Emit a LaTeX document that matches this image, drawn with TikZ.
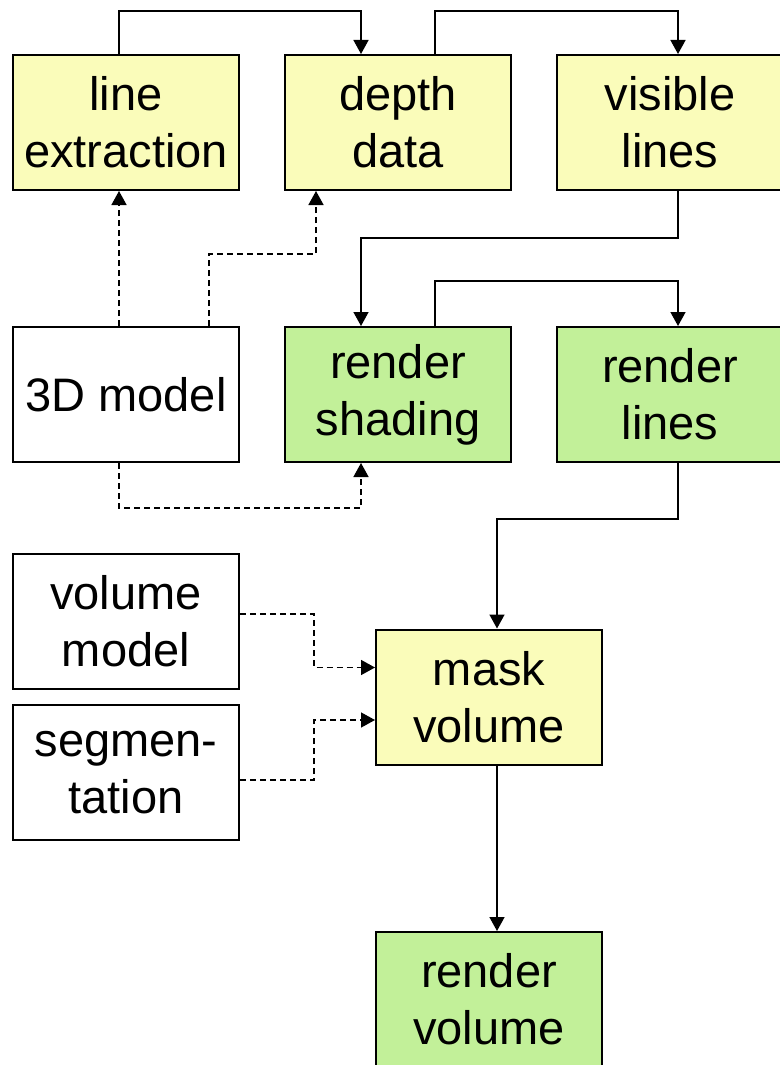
\documentclass[tikz,border=0pt]{standalone}
\usepackage{fontspec}
\setmainfont{Liberation Sans}
\usepackage{tikz}
\usetikzlibrary{arrows.meta}

\definecolor{procyellow}{RGB}{250,252,186}
\definecolor{rendergreen}{RGB}{194,240,153}

\tikzset{
	box/.style={draw, line width=2pt, minimum width=226pt, minimum height=135pt,
		inner sep=0pt, align=center, font=\fontsize{47}{57}\selectfont},
	yellowbox/.style={box, fill=procyellow},
	greenbox/.style={box, fill=rendergreen},
	plainbox/.style={box, fill=white},
	flow/.style={line width=1.5pt, -{Triangle[length=14pt,width=15pt]}},
	dataflow/.style={flow, dash pattern=on 6pt off 4pt}
}

\begin{document}
\begin{tikzpicture}[x=1pt,y=-1pt]
	\useasboundingbox (0,0) rectangle (779,1065);
	
	%top row
	\node[yellowbox] (lineext) at (126,122.5) {line\\extraction};
	\node[yellowbox] (depth)   at (398,122.5) {depth\\data};
	\node[yellowbox] (visible) at (670,122.5) {visible\\lines};
	
	%middle row
	\node[plainbox] (model)   at (126,394.5) {3D model};
	\node[greenbox] (shading) at (398,394.5) {render\\shading};
	\node[greenbox] (rlines)  at (670,394.5) {render\\lines};
	
	%volume part
	\node[plainbox]  (volmodel) at (126,621)   {volume\\model};
	\node[plainbox]  (segment)  at (126,772.5) {segmen-\\tation};
	\node[yellowbox] (mask)     at (489,697)   {mask\\volume};
	\node[greenbox]  (rvolume)  at (489,999.5) {render\\volume};
	
		%solid flow
		\draw[flow] ([xshift=-7pt]lineext.north) -- ++(0,-43) -| ([xshift=-37pt]depth.north);	%lineext--depth
		\draw[flow] ([xshift=37pt]depth.north) -- ++(0,-43) -| ([xshift=8pt]visible.north);		%depth--visible
		\draw[flow] ([xshift=8pt]visible.south) -- ++(0,47) -| ([xshift=-37pt]shading.north);	%visible--shading
		\draw[flow] ([xshift=37pt]shading.north) -- ++(0,-45) -| ([xshift=8pt]rlines.north);	%shading--rlines
		\draw[flow] ([xshift=8pt]rlines.south) -- ++(0,56) -| ([xshift=8pt]mask.north);		%rlines--mask
		\draw[flow] ([xshift=8pt]mask.south) -- ([xshift=8pt]rvolume.north);					%mask--rvolume
		
		%dashed data flow
		\draw[dataflow] ([xshift=-7pt]model.north) -- ([xshift=-7pt]lineext.south);				%model--lineext
		\draw[dataflow] ([xshift=83pt]model.north) -- ++(0,-72) -| ([xshift=-82pt]depth.south);	%model--depth
		\draw[dataflow] ([xshift=-7pt]model.south) -- ++(0,45) -| ([xshift=-37pt]shading.south);	%model--shading
		\draw[dataflow] ([yshift=7pt]volmodel.east) -- ++(74,0) |- ([yshift=29.5pt]mask.west);	%volmodel--mask
		\draw[dataflow] ([yshift=-7.5pt]segment.east) -- ++(74,0) |- ([yshift=-23pt]mask.west);	%segment--mask
\end{tikzpicture}
\end{document}
